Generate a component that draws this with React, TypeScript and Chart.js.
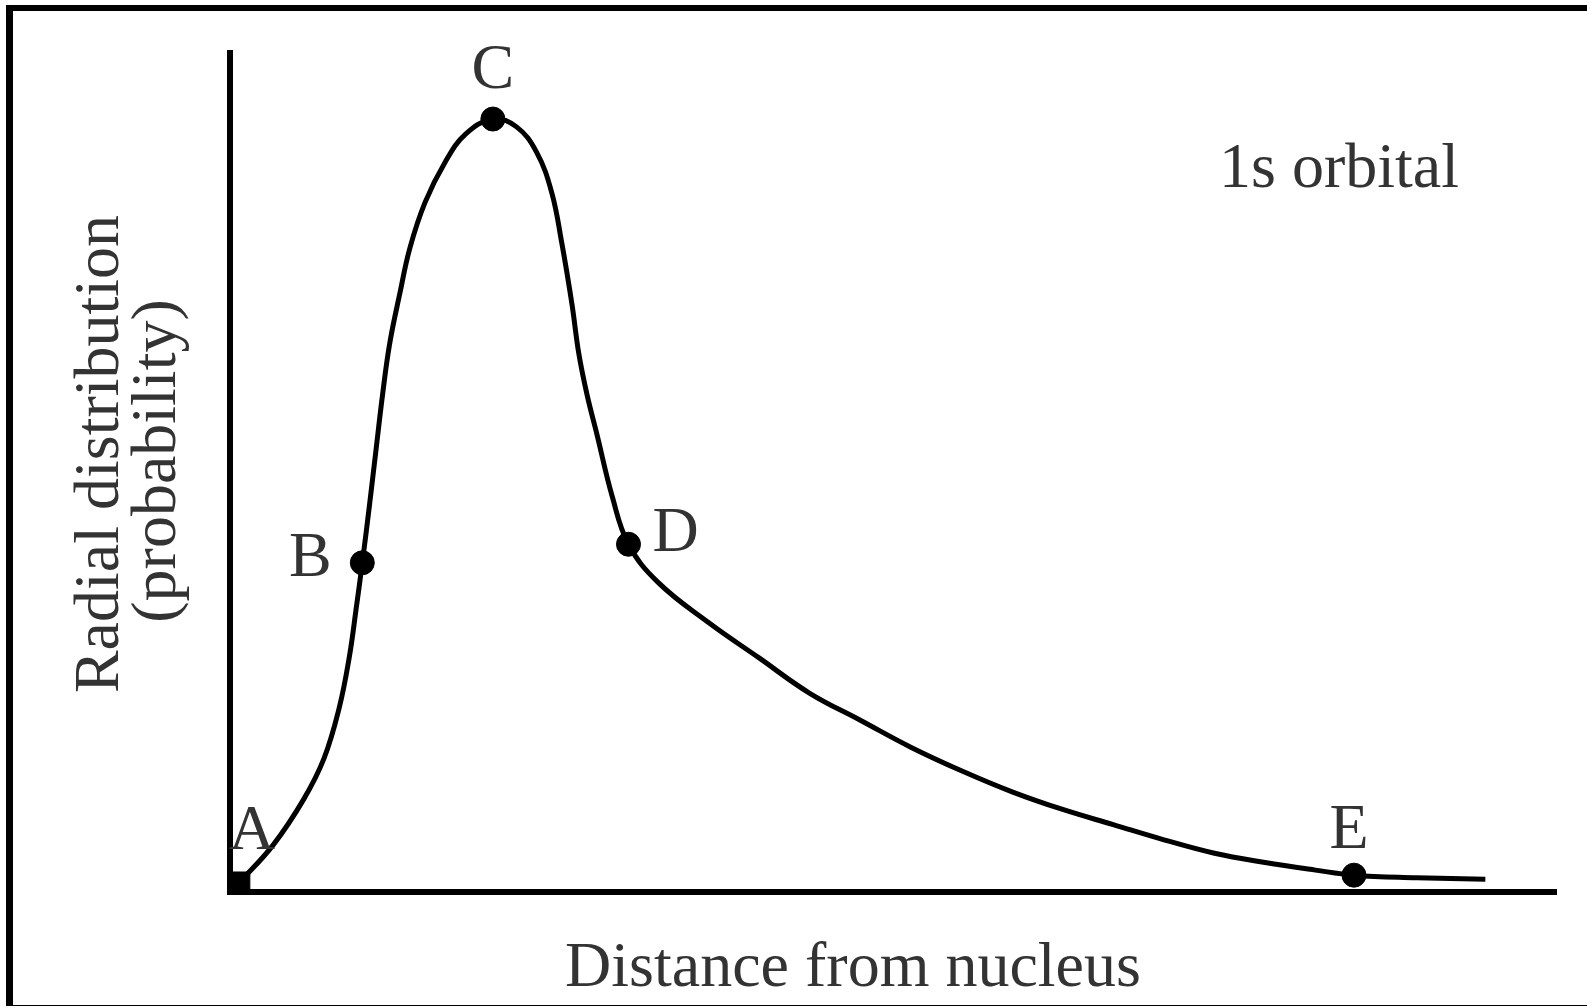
import React, { useEffect, useRef } from "react";
import { Chart, registerables } from "chart.js";

Chart.register(...registerables);

// Radial distribution curve of the 1s orbital (arbitrary units)
const distance = [
  0.75, 3.26, 5.55, 7.07, 8.22, 8.98, 9.52, 9.97, 10.5, 11.04,
  11.5, 12.03, 12.8, 13.56, 14.7, 16.22, 17.75, 19.81, 21.57, 23.09,
  24.24, 25.0, 25.76, 26.29, 26.9, 27.66, 28.8, 30.03, 32.24, 36.06,
  39.87, 43.69, 47.5, 51.3, 55.12, 58.94, 62.75, 66.56, 70.38, 74.19,
  78.0, 81.8, 84.7, 89.4, 94.6,
];
const probability = [
  1.2, 5.6, 11.0, 15.8, 21.8, 27.8, 33.8, 39.1, 45.8, 53.0,
  59.1, 65.1, 71.1, 76.5, 81.9, 86.7, 90.0, 91.8, 90.9, 87.9,
  83.1, 77.1, 69.9, 63.9, 59.1, 54.3, 47.0, 41.3, 36.8, 32.0,
  27.8, 23.6, 20.4, 17.2, 14.4, 11.9, 9.8, 8.0, 6.2, 4.6,
  3.5, 2.6, 2.0, 1.7, 1.5,
];

// Labelled points on the curve
const pointNames = ["A", "B", "C", "D", "E"];
const pointIndices = [0, 7, 17, 27, 42];

const xTitle = "Distance from nucleus";
const yTitleLines = ["Radial distribution", "(probability)"];
const orbitalLabel = "1s orbital";

const FONT = "64px 'Liberation Serif', 'Times New Roman', serif";
const TEXT_COLOR = "#333";

// Pixel offsets of each point letter from its marker (label centre x, baseline y)
const labelOffsets: Record<string, [number, number]> = {
  A: [12, -33],
  B: [-52, 13],
  C: [0, -31],
  D: [47, 7],
  E: [-5, -27],
};

const annotationsPlugin = {
  id: "orbitalAnnotations",
  beforeDatasetsDraw(chart: any) {
    const { ctx, chartArea, scales } = chart;
    const x0 = scales.x.getPixelForValue(0);
    const y0 = scales.y.getPixelForValue(0);
    ctx.save();
    ctx.strokeStyle = "#000";
    ctx.lineWidth = 6;
    ctx.lineCap = "butt";
    ctx.beginPath();
    ctx.moveTo(x0, chartArea.top);
    ctx.lineTo(x0, y0 + 3);
    ctx.moveTo(x0 - 3, y0);
    ctx.lineTo(chartArea.right, y0);
    ctx.stroke();
    ctx.restore();
  },
  afterDatasetsDraw(chart: any) {
    const { ctx, scales } = chart;
    const xs = scales.x;
    const ys = scales.y;
    ctx.save();
    ctx.font = FONT;
    ctx.fillStyle = TEXT_COLOR;
    ctx.textBaseline = "alphabetic";

    // point letters
    ctx.textAlign = "center";
    pointNames.forEach((name, i) => {
      const idx = pointIndices[i];
      const px = xs.getPixelForValue(distance[idx]);
      const py = ys.getPixelForValue(probability[idx]);
      const [dx, dy] = labelOffsets[name];
      ctx.fillText(name, px + dx, py + dy);
    });

    // orbital label
    ctx.textAlign = "left";
    ctx.fillText(orbitalLabel, 1219, 187);

    // x axis title
    ctx.textAlign = "center";
    ctx.fillText(xTitle, 853, 986);

    // y axis title, rotated
    const baselines = [118, 175];
    const centers = [454, 461];
    yTitleLines.forEach((line, i) => {
      ctx.save();
      ctx.translate(baselines[i], centers[i]);
      ctx.rotate(-Math.PI / 2);
      ctx.textAlign = "center";
      ctx.fillText(line, 0, 0);
      ctx.restore();
    });
    ctx.restore();
  },
};

export default function App() {
  const canvasRef = useRef<HTMLCanvasElement | null>(null);

  useEffect(() => {
    const canvas = canvasRef.current;
    if (!canvas) return;
    const curve = distance.map((d, i) => ({ x: d, y: probability[i] }));
    const marked = pointIndices.map((idx) => ({ x: distance[idx], y: probability[idx] }));
    const chart = new Chart(canvas, {
      type: "scatter",
      data: {
        datasets: [
          {
            type: "line",
            data: curve,
            borderColor: "#000",
            borderWidth: 5,
            pointRadius: 0,
            tension: 0.4,
            fill: false,
            clip: false,
          } as any,
          {
            type: "scatter",
            data: marked,
            backgroundColor: "#000",
            borderColor: "#000",
            pointStyle: ["rect", "circle", "circle", "circle", "circle"],
            pointRadius: [14, 12, 12, 12, 12],
            clip: false,
          } as any,
        ],
      },
      options: {
        responsive: false,
        animation: false,
        devicePixelRatio: 1,
        layout: { padding: { left: 230, right: 30, top: 50, bottom: 115 } },
        plugins: {
          legend: { display: false },
          tooltip: { enabled: false },
          title: { display: false },
        },
        scales: {
          x: { type: "linear", min: 0, max: 100, display: false },
          y: { type: "linear", min: 0, max: 100, display: false },
        },
      },
      plugins: [annotationsPlugin],
    });
    return () => chart.destroy();
  }, []);

  return (
    <div
      style={{
        position: "absolute",
        left: 0,
        top: 0,
        width: 1587,
        height: 1007,
        background: "#fff",
        overflow: "hidden",
      }}
    >
      <canvas
        ref={canvasRef}
        width={1587}
        height={1007}
        style={{ position: "absolute", left: 0, top: 0, width: 1587, height: 1007 }}
      />
      <div
        style={{
          position: "absolute",
          left: 6,
          top: 5,
          width: 1581,
          height: 1001,
          boxSizing: "border-box",
          borderTop: "6px solid #000",
          borderLeft: "7px solid #000",
          borderBottom: "1px solid #000",
          pointerEvents: "none",
        }}
      />
    </div>
  );
}
